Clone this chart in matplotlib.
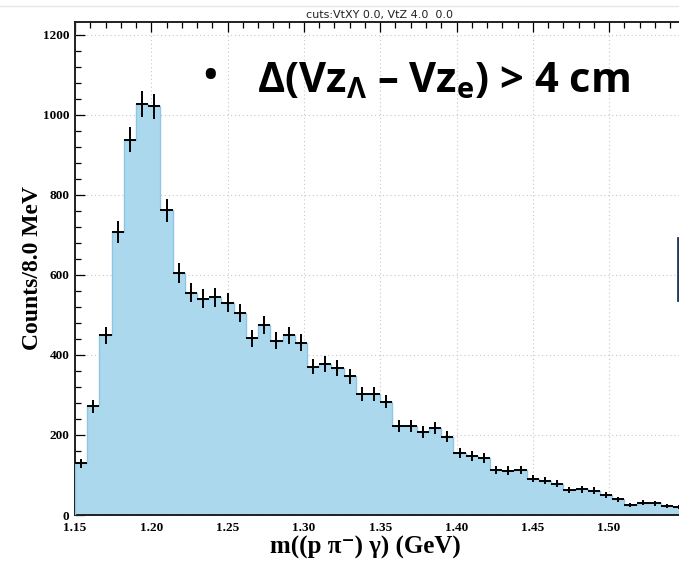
import numpy as np
import matplotlib.pyplot as plt
from matplotlib.ticker import MultipleLocator
from matplotlib.lines import Line2D

# histogram of m((p pi-) gamma), 8 MeV bins starting at 1.15 GeV
bin_start = 1.15
bin_width = 0.008
counts = [129, 272, 449, 707, 938, 1027, 1021, 761, 604, 556,
          541, 544, 531, 504, 442, 475, 436, 449, 431, 371,
          377, 367, 347, 302, 303, 283, 222, 222, 208, 217,
          196, 154, 147, 142, 112, 111, 112, 91, 86, 78,
          62, 64, 61, 50, 39, 26, 31, 29, 22, 20]
x_ticks = [1.15, 1.20, 1.25, 1.30, 1.35, 1.40, 1.45, 1.50]
y_ticks = [0, 200, 400, 600, 800, 1000, 1200]

plt.rcParams["mathtext.fontset"] = "custom"
plt.rcParams["mathtext.rm"] = "Open Sans:bold"
plt.rcParams["mathtext.it"] = "Open Sans:bold"
plt.rcParams["mathtext.bf"] = "Open Sans:bold"

counts = np.array(counts, dtype=float)
edges = bin_start + bin_width * np.arange(len(counts) + 1)
centers = 0.5 * (edges[:-1] + edges[1:])
errors = np.sqrt(counts)

fig = plt.figure(figsize=(6.79, 5.64), dpi=100)
ax = fig.add_axes([75 / 679, 49 / 564, 604 / 679, 493 / 564])

ax.stairs(counts, edges, fill=True, color="#acd8ed", zorder=2)
ax.stairs(counts, edges, color="#8cc6e4", linewidth=1.0, zorder=3)
ax.errorbar(centers, counts, yerr=errors, xerr=bin_width / 2, fmt="none",
            ecolor="black", elinewidth=1.4, capsize=0, zorder=4)

ax.set_xlim(1.15, 1.5458)
ax.set_ylim(0, 1232)
ax.set_xticks(x_ticks)
ax.set_yticks(y_ticks)
ax.set_xticklabels([f"{v:.2f}" for v in x_ticks])
ax.xaxis.set_minor_locator(MultipleLocator(0.01))
ax.yaxis.set_minor_locator(MultipleLocator(40))
ax.tick_params(which="both", direction="in", top=True, right=False,
               labelsize=9.5)
ax.tick_params(axis="x", pad=5)
ax.tick_params(axis="y", pad=4)
ax.tick_params(which="major", length=7, width=0.9)
ax.tick_params(which="minor", length=4, width=0.9)
for lab in ax.get_xticklabels() + ax.get_yticklabels():
    lab.set_fontfamily("Liberation Serif")
    lab.set_fontweight("bold")
ax.grid(True, which="major", linestyle=(0, (1, 2.5)), color="#c8c8c8",
        linewidth=0.8, zorder=0)
ax.set_axisbelow(True)
ax.spines["right"].set_visible(False)
for s in ["left", "top", "bottom"]:
    ax.spines[s].set_linewidth(1.4)
    ax.spines[s].set_color("#202020")

ax.set_xlabel("m((p \u03c0\u207b) \u03b3) (GeV)", fontsize=18,
              fontfamily=["Liberation Serif", "DejaVu Serif"],
              fontweight="bold")
ax.xaxis.set_label_coords((365 - 75) / 604, -0.042)
ax.set_ylabel("Counts/8.0 MeV", fontsize=17, fontfamily="Liberation Serif",
              fontweight="bold")
ax.yaxis.set_label_coords((43 - 75) / 604, (515 - 268) / 493)

fig.text(380 / 679, 1 - 15 / 564, "cuts:VtXY 0.0, VtZ 4.0  0.0", ha="center",
         va="center", fontsize=8, fontfamily="DejaVu Sans", color="#222222")

# overlay text from the slide
fig.text(210 / 679, 1 - 78 / 564, "\u2022", fontsize=26, ha="center",
         va="center", fontfamily="Open Sans", fontweight="bold")
fig.text(257 / 679, 1 - 92 / 564,
         "$\\Delta$(Vz$_{\\Lambda}$ \u2013 Vz$_{\\mathrm{e}}$) > 4 cm",
         fontsize=30, ha="left", va="baseline", fontfamily="Open Sans",
         fontweight="bold")

fig.add_artist(Line2D([0, 1], [1 - 6 / 564, 1 - 6 / 564], color="#e6e6e6",
                      linewidth=1.0))
fig.add_artist(Line2D([678 / 679, 678 / 679], [1 - 238 / 564, 1 - 300 / 564],
                      color="#1f3864", linewidth=2.0))

fig.savefig("out.png", dpi=100)
